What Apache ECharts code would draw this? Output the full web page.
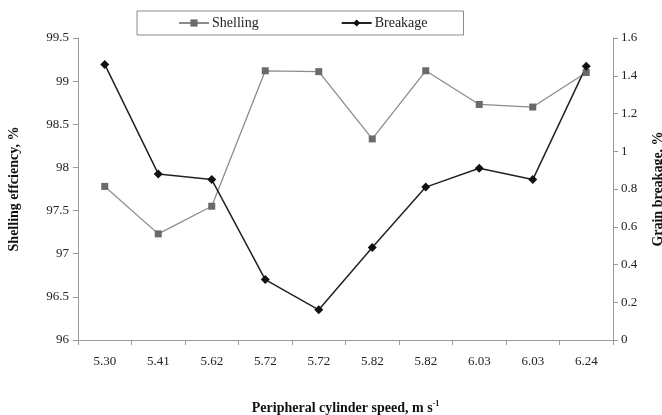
<!DOCTYPE html>
<html>
<head>
<meta charset="utf-8">
<script src="https://cdn.jsdelivr.net/npm/echarts@6/dist/echarts.min.js"></script>
<style>
  html, body { margin: 0; padding: 0; background: #fff; }
  #chart { width: 662px; height: 415px; }
</style>
</head>
<body>
<div id="chart"></div>
<script>
// speeds as printed on the x axis (duplicates are real)
const speeds = ["5.30", "5.41", "5.62", "5.72", "5.72", "5.82", "5.82", "6.03", "6.03", "6.24"];
// shelling efficiency, % (left axis)
const shelling = [97.78, 97.23, 97.55, 99.12, 99.11, 98.33, 99.12, 98.73, 98.70, 99.10];
// grain breakage, % (right axis)
const breakage = [1.46, 0.88, 0.85, 0.32, 0.16, 0.49, 0.81, 0.91, 0.85, 1.45];

const font = "Liberation Serif";
const axisGray = "#9a9a9a";

const chart = echarts.init(document.getElementById("chart"), null, { renderer: "canvas" });

chart.setOption({
  backgroundColor: "#fff",
  animation: false,
  textStyle: { fontFamily: font },
  grid: { left: 78, right: 49, top: 38, bottom: 75, outerBoundsMode: "none" },
  legend: {
    left: 137,
    top: 11,
    padding: [5, 36, 5, 41],
    itemGap: 82,
    itemWidth: 30,
    itemHeight: 9,
    borderColor: "#8a8a8a",
    borderWidth: 1,
    textStyle: { fontFamily: font, fontSize: 14, color: "#222", padding: [0, 0, 0, -2] },
    data: ["Shelling", "Breakage"]
  },
  xAxis: {
    type: "category",
    data: speeds,
    boundaryGap: true,
    name: "Peripheral cylinder speed, m s{sup|-1}",
    nameLocation: "middle",
    nameGap: 60,
    nameTextStyle: {
      fontFamily: font, fontSize: 14, fontWeight: "bold", color: "#111",
      rich: { sup: { fontFamily: font, fontSize: 8, fontWeight: "bold", verticalAlign: "bottom", padding: [0, 0, 9, 0], color: "#111" } }
    },
    axisLine: { lineStyle: { color: axisGray } },
    axisTick: { show: true, length: 5, inside: false, lineStyle: { color: axisGray } },
    axisLabel: { fontFamily: font, fontSize: 13, color: "#222", margin: 15 },
    splitLine: { show: false }
  },
  yAxis: [
    {
      type: "value",
      min: 96,
      max: 99.5,
      interval: 0.5,
      name: "Shelling effciency, %",
      nameLocation: "middle",
      nameGap: 57,
      nameRotate: 90,
      nameTextStyle: { fontFamily: font, fontSize: 14, fontWeight: "bold", color: "#111" },
      axisLine: { show: true, lineStyle: { color: axisGray } },
      axisTick: { show: true, length: 5, lineStyle: { color: axisGray } },
      axisLabel: { fontFamily: font, fontSize: 13, color: "#222", margin: 9 },
      splitLine: { show: false }
    },
    {
      type: "value",
      min: 0,
      max: 1.6,
      interval: 0.2,
      name: "Grain breakage, %",
      nameLocation: "middle",
      nameGap: 38,
      nameRotate: 90,
      nameTextStyle: { fontFamily: font, fontSize: 14, fontWeight: "bold", color: "#111" },
      axisLine: { show: true, lineStyle: { color: axisGray } },
      axisTick: { show: true, length: 5, lineStyle: { color: axisGray } },
      axisLabel: { fontFamily: font, fontSize: 13, color: "#222", margin: 8 },
      splitLine: { show: false }
    }
  ],
  series: [
    {
      name: "Shelling",
      type: "line",
      yAxisIndex: 0,
      data: shelling,
      symbol: "rect",
      symbolSize: 7,
      itemStyle: { color: "#6a6a6a" },
      lineStyle: { color: "#8c8c8c", width: 1.3 }
    },
    {
      name: "Breakage",
      type: "line",
      yAxisIndex: 1,
      data: breakage,
      symbol: "diamond",
      symbolSize: 9,
      itemStyle: { color: "#111" },
      lineStyle: { color: "#222", width: 1.5 }
    }
  ]
});
</script>
</body>
</html>
